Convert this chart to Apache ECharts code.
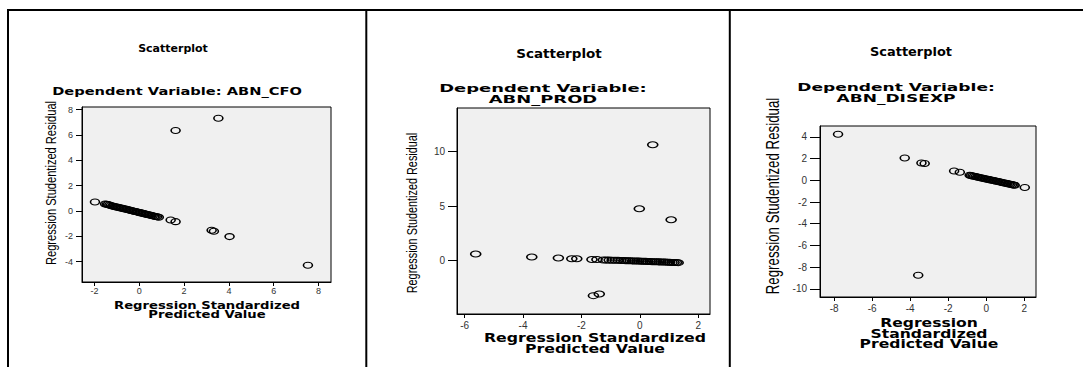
<!DOCTYPE html>
<html>
<head>
<meta charset="utf-8">
<script src="https://cdn.jsdelivr.net/npm/echarts@6/dist/echarts.min.js"></script>
<style>
html, body { margin: 0; padding: 0; background: #fff; }
#chart { width: 1083px; height: 367px; }
</style>
</head>
<body>
<div id="chart"></div>
<script>
// Residual scatterplots for three regressions: [standardized predicted, studentized residual]
const cfoPoints = [
  [-1.98, 0.71], [-1.53, 0.55], [-1.46, 0.53], [-1.40, 0.51], [-1.34, 0.47],
  [-1.28, 0.43], [-1.21, 0.40], [-1.15, 0.37], [-1.08, 0.34], [-1.02, 0.32],
  [-0.95, 0.29], [-0.89, 0.26], [-0.82, 0.23], [-0.76, 0.21], [-0.70, 0.18],
  [-0.63, 0.15], [-0.57, 0.13], [-0.50, 0.10], [-0.44, 0.07], [-0.37, 0.04],
  [-0.31, 0.01], [-0.24, -0.02], [-0.18, -0.04], [-0.11, -0.07], [-0.05, -0.10],
  [0.02, -0.13], [0.08, -0.15], [0.15, -0.18], [0.21, -0.21], [0.28, -0.24],
  [0.34, -0.27], [0.41, -0.30], [0.47, -0.32], [0.54, -0.35], [0.60, -0.38],
  [0.67, -0.41], [0.73, -0.43], [0.80, -0.46], [0.87, -0.49],
  [1.40, -0.71], [1.62, -0.84], [3.23, -1.52], [3.33, -1.60], [4.03, -2.02],
  [7.53, -4.28], [1.62, 6.34], [3.53, 7.32]
];
const prodPoints = [
  [-5.62, 0.61], [-3.70, 0.34], [-2.79, 0.24], [-2.33, 0.18], [-2.16, 0.18],
  [-1.64, 0.10], [-1.47, 0.10], [-1.59, -3.20], [-1.39, -3.05],
  [-0.02, 4.76], [0.44, 10.60], [1.07, 3.75],
  [-1.25, 0.06], [-1.15, 0.05], [-1.05, 0.05], [-0.95, 0.04], [-0.85, 0.03],
  [-0.75, 0.03], [-0.65, 0.02], [-0.55, 0.01], [-0.48, 0.00], [-0.40, 0.00],
  [-0.33, -0.01], [-0.25, -0.02], [-0.18, -0.03], [-0.10, -0.03], [-0.03, -0.04],
  [0.05, -0.05], [0.12, -0.06], [0.20, -0.06], [0.27, -0.07], [0.35, -0.08],
  [0.42, -0.09], [0.50, -0.09], [0.57, -0.10], [0.65, -0.11], [0.72, -0.12],
  [0.80, -0.12], [0.87, -0.13], [0.95, -0.14], [1.02, -0.15], [1.10, -0.16],
  [1.17, -0.16], [1.25, -0.17], [1.31, -0.18]
];
const disexpPoints = [
  [-7.80, 4.24], [-4.29, 2.06], [-3.41, 1.59], [-3.24, 1.54], [-1.69, 0.86],
  [-1.39, 0.74], [2.03, -0.67], [-3.58, -8.74],
  [-0.87, 0.46], [-0.80, 0.43], [-0.72, 0.40], [-0.64, 0.37], [-0.56, 0.34],
  [-0.48, 0.31], [-0.40, 0.28], [-0.32, 0.24], [-0.24, 0.21], [-0.16, 0.18],
  [-0.08, 0.15], [0.00, 0.12], [0.08, 0.09], [0.16, 0.06], [0.24, 0.03],
  [0.32, 0.00], [0.40, -0.03], [0.48, -0.06], [0.56, -0.09], [0.64, -0.12],
  [0.72, -0.16], [0.80, -0.19], [0.88, -0.22], [0.96, -0.25], [1.04, -0.28],
  [1.12, -0.31], [1.20, -0.34], [1.28, -0.37], [1.36, -0.40], [1.44, -0.43],
  [1.50, -0.46]
];

const cfoXTicks = [-2, 0, 2, 4, 6, 8];
const cfoYTicks = [-4, -2, 0, 2, 4, 6, 8];
const prodXTicks = [-6, -4, -2, 0, 2];
const prodYTicks = [0, 5, 10];
const disexpXTicks = [-8, -6, -4, -2, 0, 2];
const disexpYTicks = [-10, -8, -6, -4, -2, 0, 2, 4];

const chartTitle = 'Scatterplot';
const cfoHeading = 'Dependent Variable: ABN_CFO';
const prodHeading = 'Dependent Variable:\nABN_PROD';
const disexpHeading = 'Dependent Variable:\nABN_DISEXP';
const yName = 'Regression Studentized Residual';
const xNameTwoLine = 'Regression Standardized\nPredicted Value';
const xNameThreeLine = 'Regression\nStandardized\nPredicted Value';

const WIDE = '"DejaVu Sans", sans-serif';
const PLAIN = '"Liberation Sans", Arial, sans-serif';
const RING = 'path://M0,3A4.5,3,0,1,1,9,3A4.5,3,0,1,1,0,3Z';

const panels = [
  {
    points: cfoPoints, xTicks: cfoXTicks, yTicks: cfoYTicks,
    grid: { left: 82, top: 107, width: 249, height: 175 },
    x: [-2.56, 8.56], y: [-5.6, 8.2],
    tickFont: 9, yTickLen: 6, yLabelGap: 9, xLabelGap: 4, marker: [9, 6],
    title: { x: 173, y: 48, size: 11, sx: 1.0 },
    heading: { text: cfoHeading, x: 177, y: 91, size: 11, sx: 1.33, lh: 11 },
    xName: { text: xNameTwoLine, x: 207, y: 310, size: 11, sx: 1.2, lh: 9 },
    yName: { x: 51, y: 183, size: 15, sx: 0.74 }
  },
  {
    points: prodPoints, xTicks: prodXTicks, yTicks: prodYTicks,
    grid: { left: 457, top: 108, width: 253, height: 206 },
    x: [-6.26, 2.4], y: [-4.88, 13.97],
    tickFont: 10, yTickLen: 9, yLabelGap: 12, xLabelGap: 6, marker: [10, 6],
    title: { x: 559, y: 54, size: 12.5, sx: 1.08 },
    heading: { text: prodHeading, x: 543, y: 94, size: 11, sx: 1.63, lh: 11.5 },
    xName: { text: xNameTwoLine, x: 595, y: 343.5, size: 12.3, sx: 1.28, lh: 11 },
    yName: { x: 412, y: 213, size: 14.5, sx: 0.75 }
  },
  {
    points: disexpPoints, xTicks: disexpXTicks, yTicks: disexpYTicks,
    grid: { left: 820, top: 126, width: 216, height: 171 },
    x: [-8.75, 2.62], y: [-10.75, 5.0],
    tickFont: 10, yTickLen: 10, yLabelGap: 13, xLabelGap: 6, marker: [9, 6],
    title: { x: 911, y: 52, size: 12.3, sx: 1.05 },
    heading: { text: disexpHeading, x: 896, y: 92.5, size: 10.8, sx: 1.58, lh: 11.5 },
    xName: { text: xNameThreeLine, x: 929, y: 333.5, size: 12, sx: 1.3, lh: 10.5 },
    yName: { x: 773, y: 196, size: 17.5, sx: 0.76 }
  }
];

function label(text, x, y, size, sx, lh, bold, family, rotation) {
  return {
    type: 'text', x: x, y: y, scaleX: sx || 1, rotation: rotation || 0, silent: true,
    style: {
      text: text, fill: '#000', align: 'center', verticalAlign: 'middle',
      font: (bold ? 'bold ' : '') + size + 'px ' + family,
      lineHeight: lh || size
    }
  };
}

const grids = [], xAxes = [], yAxes = [], series = [], graphics = [];

panels.forEach(function (p, i) {
  grids.push(Object.assign({
    show: true, backgroundColor: '#f0f0f0', borderColor: '#000', borderWidth: 1,
    containLabel: false
  }, p.grid));
  xAxes.push({
    type: 'value', gridIndex: i, min: p.x[0], max: p.x[1],
    axisLine: { show: true, onZero: false, lineStyle: { color: '#000', width: 1 } },
    axisTick: { show: true, length: 4, customValues: p.xTicks, lineStyle: { color: '#000' } },
    axisLabel: { customValues: p.xTicks, fontSize: p.tickFont, fontFamily: PLAIN, color: '#333', margin: p.xLabelGap },
    splitLine: { show: false }
  });
  yAxes.push({
    type: 'value', gridIndex: i, min: p.y[0], max: p.y[1],
    axisLine: { show: true, onZero: false, lineStyle: { color: '#000', width: 1 } },
    axisTick: { show: true, length: p.yTickLen, customValues: p.yTicks, lineStyle: { color: '#000' } },
    axisLabel: { customValues: p.yTicks, fontSize: p.tickFont, fontFamily: PLAIN, color: '#333', margin: p.yLabelGap },
    splitLine: { show: false }
  });
  series.push({
    type: 'scatter', xAxisIndex: i, yAxisIndex: i, data: p.points,
    symbol: RING, symbolSize: p.marker, silent: true,
    itemStyle: { color: 'rgba(0,0,0,0)', borderColor: '#000', borderWidth: 1.3, opacity: 1 }
  });
  graphics.push(label(chartTitle, p.title.x, p.title.y, p.title.size, p.title.sx, null, true, WIDE));
  graphics.push(label(p.heading.text, p.heading.x, p.heading.y, p.heading.size, p.heading.sx, p.heading.lh, true, WIDE));
  graphics.push(label(p.xName.text, p.xName.x, p.xName.y, p.xName.size, p.xName.sx, p.xName.lh, true, WIDE));
  graphics.push(label(yName, p.yName.x, p.yName.y, p.yName.size, p.yName.sx, null, false, PLAIN, Math.PI / 2));
});

// Frame around the three panels
const frame = { stroke: '#000', lineWidth: 2 };
graphics.push({ type: 'line', silent: true, shape: { x1: 7, y1: 10, x2: 1083, y2: 10 }, style: frame });
[8, 366.3, 729.8].forEach(function (x) {
  graphics.push({ type: 'line', silent: true, shape: { x1: x, y1: 9, x2: x, y2: 367 }, style: frame });
});

const chart = echarts.init(document.getElementById('chart'), null, { renderer: 'svg' });
chart.setOption({
  animation: false,
  backgroundColor: '#fff',
  grid: grids,
  xAxis: xAxes,
  yAxis: yAxes,
  series: series,
  graphic: graphics
});
</script>
</body>
</html>
